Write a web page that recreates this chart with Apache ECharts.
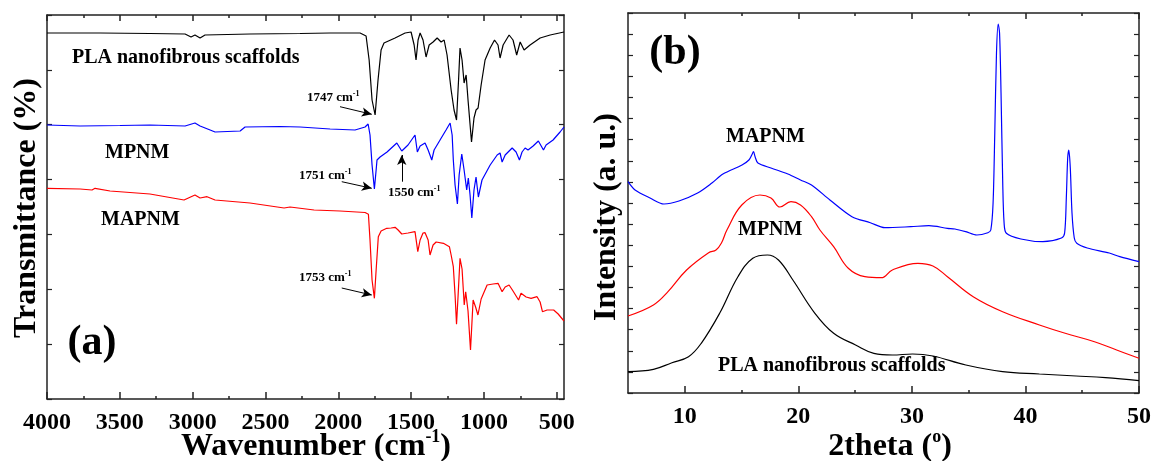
<!DOCTYPE html>
<html><head><meta charset="utf-8">
<script src="https://cdn.jsdelivr.net/npm/echarts@6/dist/echarts.min.js"></script>
<style>html,body{margin:0;padding:0;background:#fff}#c{width:1155px;height:461px}</style>
</head><body><div id="c"></div>
<script>
// ---------- Panel (a): FTIR, [wavenumber (cm-1), transmittance (a.u.)] ----------
const ftirPLA = [[4000,366],[3636,366],[3293,365.5],[3052,365],[3011,362],[2984,364],[2949,361],[2915,364],[2606,365],[2262,365.5],[2056,366],[1850,366],[1809,363],[1788,339],[1768,299],[1747,284],[1727,319],[1706,349],[1686,356],[1610,361],[1541,366],[1500,367],[1479,354],[1466,339],[1452,359],[1438,366],[1418,359],[1397,342],[1376,354],[1349,357],[1321,361],[1294,357],[1273,359],[1253,344],[1225,309],[1205,289],[1188,279],[1174,319],[1164,351],[1150,339],[1136,316],[1122,324],[1109,299],[1085,257],[1068,281],[1054,289],[1040,291],[1019,314],[992,339],[957,351],[927,359],[903,354],[889,341],[868,354],[827,364],[800,359],[775,344],[751,357],[724,349],[683,354],[614,361],[545,364],[450,367]];
const ftirMPNM = [[4000,274],[3773,273],[3499,273.5],[3293,274],[3052,273],[2984,276],[2949,273],[2880,269],[2846,267],[2674,268],[2640,272],[2400,272.5],[2262,272],[2056,270],[1885,269],[1816,272],[1795,275],[1782,264],[1768,234],[1752,210],[1740,229],[1734,239],[1713,242],[1665,247],[1598,256],[1564,248],[1521,254],[1473,264],[1457,247],[1438,253],[1404,256],[1383,249],[1358,239],[1342,249],[1301,259],[1260,269],[1232,276],[1218,264],[1210,239],[1198,214],[1182,195],[1170,224],[1152,245],[1136,229],[1118,209],[1107,221],[1095,204],[1083,181],[1068,209],[1054,222],[1038,202],[1013,219],[957,234],[909,244],[889,246],[875,237],[854,244],[806,251],[779,247],[756,239],[738,247],[717,251],[697,249],[662,253],[626,258],[591,249],[573,254],[525,259],[477,267],[450,272]];
const ftirMAPNM = [[4000,210.7],[3773,210],[3691,209],[3670,210.7],[3567,208],[3293,205],[3059,199],[2984,204],[2949,201],[2901,202.3],[2846,199],[2606,196],[2372,191],[2331,192],[2166,189],[1988,188],[1816,186.5],[1793,184.7],[1782,159],[1768,119],[1752,100.7],[1740,129],[1725,162.3],[1706,168],[1667,170.7],[1637,171],[1610,171.7],[1589,169],[1564,165],[1521,166],[1473,167.3],[1454,147.3],[1438,159],[1418,166],[1404,166.3],[1383,159],[1370,144],[1349,154],[1328,157],[1278,155.7],[1237,152.3],[1225,144],[1210,132.3],[1198,104],[1188,74.7],[1177,104],[1164,140.7],[1150,130],[1135,94],[1125,107.3],[1109,88],[1092,49],[1074,99],[1057,92],[1041,84],[1019,100],[978,114],[937,115],[903,115.7],[875,107.3],[854,112],[827,114],[800,108],[762,99],[745,105.7],[710,102],[676,100.7],[635,102.3],[614,97],[598,87.3],[566,89],[521,89],[490,85],[450,78]];
const ftirTicks = [500,1000,1500,2000,2500,3000,3500,4000];
const ftirMinorTicks = [750,1250,1750,2250,2750,3250,3750];

// ---------- Panel (b): XRD, [2theta (deg), intensity (a.u.)] ----------
const xrdMAPNM = [[5,211.3],[5.62,203],[6.94,195],[8.17,189],[9.49,192],[11.13,200],[12.39,210],[13.36,219],[15.04,228],[15.65,233],[15.9,238],[16.05,241.3],[16.2,236],[16.44,230],[17.59,225],[19.08,219],[20.19,213],[21.16,208],[22.78,193],[24.72,176.3],[26.34,170.3],[27.62,165.3],[29.91,166.3],[31.5,167.3],[33.13,164.7],[33.79,164],[34.75,161.3],[35.72,158],[36.69,160.3],[36.95,163],[37.15,190],[37.3,260],[37.45,340],[37.6,369],[37.72,360],[37.85,300],[38.0,210],[38.12,170],[38.32,159.7],[39.6,154],[41.53,151.3],[43.17,155],[43.45,160],[43.6,195],[43.72,235],[43.82,243],[43.95,225],[44.1,180],[44.3,155],[44.52,149.7],[45.44,145],[47.38,140],[48.31,136.3],[50,131.3]];
const xrdMPNM = [[5,77],[7.24,88],[8.52,101.3],[10.16,123],[12.1,140.3],[12.75,143],[13.23,150],[13.71,163],[15.02,188],[16.62,198],[17.59,195],[18.38,186],[19.35,191.3],[20.19,188],[21.16,176.3],[21.9,163],[23.11,146.3],[24.4,124.7],[25.86,116.3],[27.31,115.3],[28.28,123],[30.53,129.7],[31.85,127],[33.13,116.3],[35.4,96.3],[37.99,81.3],[41.23,68],[43.5,59.7],[46.08,51.3],[48.03,43],[50,34.7]];
const xrdPLA = [[5,21.3],[7.24,23.7],[8.87,30.3],[10.33,36.3],[11.45,49.7],[13.07,79.7],[14.68,116.3],[15.99,134.7],[17.28,138],[18.25,133],[19.52,113],[21.46,79.7],[23.11,59.7],[25.04,48],[26.65,39.7],[28.28,38],[30.06,39],[31.85,37],[34.75,28],[37.99,21.3],[41.23,19],[44.46,17],[47.05,15.3],[50,12.3]];
const xrdTicks = [10,20,30,40,50];
const xrdMinorTicks = [15,25,35,45];

const FONT = '"Liberation Serif", "Times New Roman", serif';
const AX = '#222';
const yTicksA = [0,1,2,3,4,5,6,7].map(k => k*384/7);
const yTicksB = Array.from({length:19}, (_, k) => k*380/18);

function xAxisDef(grid, min, max, inverse, pos, ticks, len, labels, showLine) {
  return {
    type: 'value', gridIndex: grid, min: min, max: max, inverse: inverse, position: pos,
    axisLine: {show: showLine, onZero: false, lineStyle: {color: AX, width: 1.5}},
    axisTick: {show: true, inside: true, length: len, customValues: ticks, lineStyle: {color: AX, width: 1.5}},
    axisLabel: labels ? {show: true, customValues: ticks, margin: 12, color: '#000', fontFamily: FONT, fontWeight: 'bold', fontSize: 24,
                         formatter: v => String(v)}
                      : {show: false},
    splitLine: {show: false}
  };
}
function yAxisDef(grid, max, pos, ticks) {
  return {
    type: 'value', gridIndex: grid, min: 0, max: max, position: pos,
    axisLine: {show: true, onZero: false, lineStyle: {color: AX, width: 1.5}},
    axisTick: {show: true, inside: true, length: 5, customValues: ticks, lineStyle: {color: AX, width: 1.2}},
    axisLabel: {show: false}, splitLine: {show: false}
  };
}

function line(data, color, xi, yi, smooth, extra) {
  return Object.assign({
    type: 'line', data: data, xAxisIndex: xi, yAxisIndex: yi, showSymbol: false, symbol: 'none',
    smooth: smooth, animation: false, silent: true,
    lineStyle: {color: color, width: 1.2}, itemStyle: {color: color}
  }, extra || {});
}

function arrows(list) {
  return {
    silent: true, animation: false, symbol: ['none', 'arrow'], symbolSize: [7, 10],
    label: {show: false}, lineStyle: {color: '#000', width: 1, type: 'solid'},
    data: list.map(a => [{coord: a[0]}, {coord: a[1]}])
  };
}

function txt(x, y, text, size, opts) {
  opts = opts || {};
  return {
    type: 'text', x: x, y: y, rotation: opts.rot || 0, silent: true,
    style: {
      text: text, fill: '#000', fontFamily: FONT, fontWeight: 'bold', fontSize: size,
      align: opts.align || 'left', verticalAlign: 'middle', rich: opts.rich
    }
  };
}
const annRich = {n: {fontSize: 13, fontWeight: 'bold', fontFamily: FONT, fill: '#000', lineHeight: 16},
                 s: {fontSize: 8, fontWeight: 'bold', fontFamily: FONT, fill: '#000', verticalAlign: 'top', lineHeight: 16}};
const titleRich = {n: {fontSize: 32, fontWeight: 'bold', fontFamily: FONT, fill: '#000', lineHeight: 38},
                   s: {fontSize: 18, fontWeight: 'bold', fontFamily: FONT, fill: '#000', verticalAlign: 'top', lineHeight: 38}};

const chart = echarts.init(document.getElementById('c'), null, {renderer: 'canvas'});
chart.setOption({
  backgroundColor: '#fff',
  animation: false,
  grid: [
    {left: 47, top: 15, width: 517, height: 384},
    {left: 628, top: 13, width: 511, height: 380}
  ],
  xAxis: [
    xAxisDef(0, 450, 4000, true, 'bottom', ftirTicks, 7, true, true),
    xAxisDef(0, 450, 4000, true, 'bottom', ftirMinorTicks, 3, false, false),
    xAxisDef(0, 450, 4000, true, 'top', ftirTicks, 6, false, true),
    xAxisDef(0, 450, 4000, true, 'top', ftirMinorTicks, 3, false, false),
    xAxisDef(1, 5, 50, false, 'bottom', xrdTicks, 7, true, true),
    xAxisDef(1, 5, 50, false, 'bottom', xrdMinorTicks, 3, false, false),
    xAxisDef(1, 5, 50, false, 'top', xrdTicks, 6, false, true),
    xAxisDef(1, 5, 50, false, 'top', xrdMinorTicks, 3, false, false)
  ],
  yAxis: [
    yAxisDef(0, 384, 'left', yTicksA),
    yAxisDef(0, 384, 'right', yTicksA),
    yAxisDef(1, 380, 'left', yTicksB),
    yAxisDef(1, 380, 'right', yTicksB)
  ],
  series: [
    line(ftirPLA, '#000000', 0, 0, false, {markLine: arrows([[[1988, 292.3], [1770, 284.7]]])}),
    line(ftirMPNM, '#0000ff', 0, 0, false, {markLine: arrows([[[1976, 217.3], [1770, 210.7]], [[1564, 217.3], [1564, 244]]])}),
    line(ftirMAPNM, '#ff0000', 0, 0, false, {markLine: arrows([[[1976, 111], [1770, 104]]])}),
    line(xrdMAPNM, '#0000ff', 4, 2, 0.3),
    line(xrdMPNM, '#ff0000', 4, 2, 0.4),
    line(xrdPLA, '#000000', 4, 2, 0.4)
  ],
  graphic: [
    txt(27, 208, 'Transmittance (%)', 32, {rot: Math.PI / 2, align: 'center'}),
    txt(316, 447, '{n|Wavenumber (cm}{s|-1}{n|)}', 32, {align: 'center', rich: titleRich}),
    txt(92, 343, '(a)', 42, {align: 'center'}),
    txt(72, 57.5, 'PLA nanofibrous scaffolds', 20),
    txt(105, 152.5, 'MPNM', 20),
    txt(101, 220, 'MAPNM', 20),
    txt(307, 98, '{n|1747 cm}{s|-1}', 13, {rich: annRich}),
    txt(299, 176, '{n|1751 cm}{s|-1}', 13, {rich: annRich}),
    txt(388, 193, '{n|1550 cm}{s|-1}', 13, {rich: annRich}),
    txt(299, 278, '{n|1753 cm}{s|-1}', 13, {rich: annRich}),
    txt(607, 217, 'Intensity (a. u.)', 32, {rot: Math.PI / 2, align: 'center'}),
    txt(890, 447, '{n|2theta (}{s|o}{n|)}', 32, {align: 'center', rich: titleRich}),
    txt(675, 53, '(b)', 42, {align: 'center'}),
    txt(726, 136.5, 'MAPNM', 20),
    txt(738, 230, 'MPNM', 20),
    txt(718, 366, 'PLA nanofibrous scaffolds', 20)
  ]
});
</script></body></html>
